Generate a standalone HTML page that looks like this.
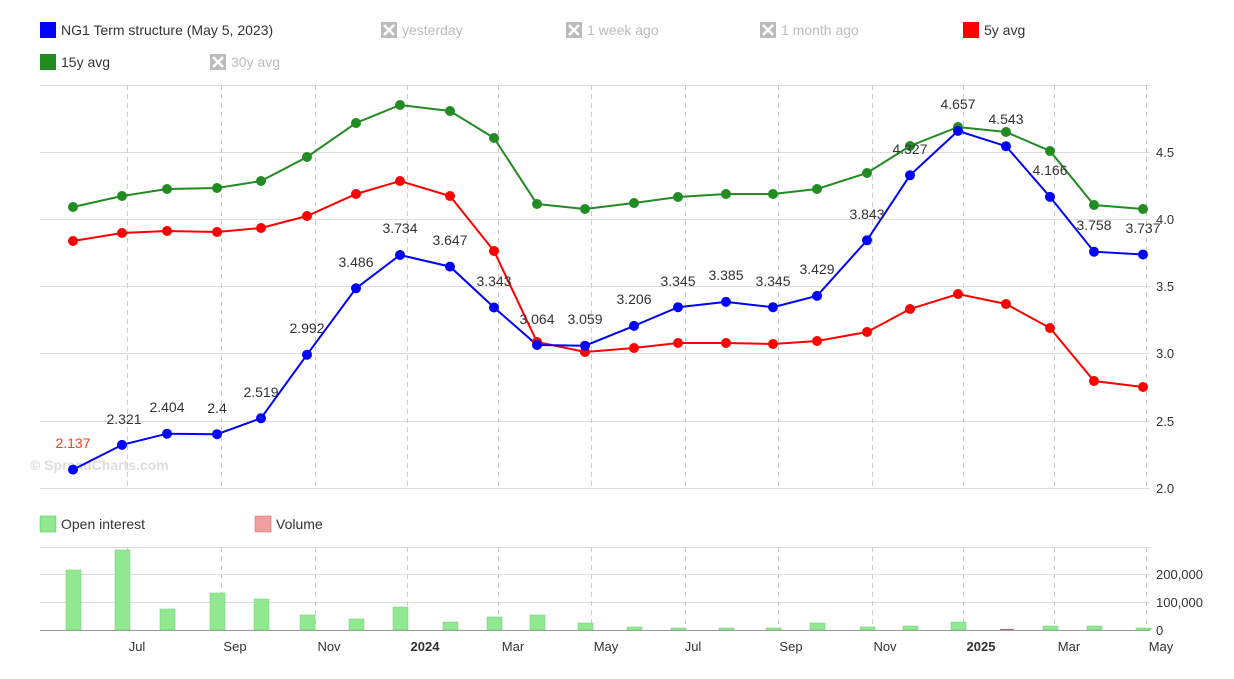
<!DOCTYPE html>
<html><head><meta charset="utf-8"><style>
body{margin:0;background:#fff;font-family:"Liberation Sans",sans-serif;}
</style></head><body>
<svg width="1234" height="674" xmlns="http://www.w3.org/2000/svg" font-family="Liberation Sans, sans-serif">
<rect width="1234" height="674" fill="#fff"/>
<!-- legend -->
<g font-size="14">
<rect x="40" y="22" width="16" height="16" fill="#0000ff"/><text x="61" y="35" fill="#333">NG1 Term structure (May 5, 2023)</text>
<g fill="#bbb"><rect x="381" y="22" width="16" height="16"/><rect x="566" y="22" width="16" height="16"/><rect x="760" y="22" width="16" height="16"/><rect x="210" y="54" width="16" height="16"/></g>
<g stroke="#fff" stroke-width="2.5"><path d="M384 25l10 10M394 25l-10 10M569 25l10 10M579 25l-10 10M763 25l10 10M773 25l-10 10M213 57l10 10M223 57l-10 10"/></g>
<g fill="#bbb"><text x="402" y="35">yesterday</text><text x="587" y="35">1 week ago</text><text x="781" y="35">1 month ago</text><text x="231" y="67">30y avg</text></g>
<rect x="963" y="22" width="16" height="16" fill="#ff0000"/><text x="984" y="35" fill="#333">5y avg</text>
<rect x="40" y="54" width="16" height="16" fill="#228b22"/><text x="61" y="67" fill="#333">15y avg</text>
<rect x="40" y="516" width="16" height="16" fill="#90e890" stroke="#5c5" stroke-width="0.5"/><text x="61" y="529" fill="#333">Open interest</text>
<rect x="255" y="516" width="16" height="16" fill="#f0a0a0" stroke="#c66" stroke-width="0.5"/><text x="276" y="529" fill="#333">Volume</text>
</g>
<!-- grid -->
<g stroke="#ddd" stroke-width="1">
<path d="M40 85.5H1150M40 152.5H1150M40 219.5H1150M40 286.5H1150M40 353.5H1150M40 421.5H1150M40 488.5H1150"/>
<path d="M40 547.5H1150M40 574.5H1150M40 602.5H1150"/>
</g>
<g stroke="#ccc" stroke-dasharray="5,4">
<path d="M127.5 85V488M221.5 85V488M315.5 85V488M407.5 85V488M498.5 85V488M591.5 85V488M685.5 85V488M778.5 85V488M872.5 85V488M963.5 85V488M1054.5 85V488M1146.5 85V488"/>
<path d="M127.5 547V630M221.5 547V630M315.5 547V630M407.5 547V630M498.5 547V630M591.5 547V630M685.5 547V630M778.5 547V630M872.5 547V630M963.5 547V630M1054.5 547V630M1146.5 547V630"/>
</g>
<path d="M40 630.5H1150" stroke="#999"/>
<g font-size="13" fill="#333">
<text x="1156" y="157">4.5</text><text x="1156" y="224">4.0</text><text x="1156" y="291">3.5</text><text x="1156" y="358">3.0</text><text x="1156" y="426">2.5</text><text x="1156" y="493">2.0</text>
<text x="1156" y="579">200,000</text><text x="1156" y="607">100,000</text><text x="1156" y="635">0</text>
</g>
<g font-size="13" fill="#333" text-anchor="middle">
<text x="137" y="651">Jul</text><text x="235" y="651">Sep</text><text x="329" y="651">Nov</text><text x="425" y="651" font-weight="bold">2024</text><text x="513" y="651">Mar</text><text x="606" y="651">May</text><text x="693" y="651">Jul</text><text x="791" y="651">Sep</text><text x="885" y="651">Nov</text><text x="981" y="651" font-weight="bold">2025</text><text x="1069" y="651">Mar</text><text x="1161" y="651">May</text>
</g>
<text x="30" y="470" font-size="14" font-weight="bold" fill="#ddd">© SpreadCharts.com</text>
<!-- bars -->
<g fill="#90e890" stroke="#7c7" stroke-width="0.5">
<rect x="66" y="570" width="15" height="60"/><rect x="115" y="550" width="15" height="80"/><rect x="160" y="609" width="15" height="21"/><rect x="210" y="593" width="15" height="37"/><rect x="254" y="599" width="15" height="31"/><rect x="300" y="615" width="15" height="15"/><rect x="349" y="619" width="15" height="11"/><rect x="393" y="607" width="15" height="23"/><rect x="443" y="622" width="15" height="8"/><rect x="487" y="617" width="15" height="13"/><rect x="530" y="615" width="15" height="15"/><rect x="578" y="623" width="15" height="7"/><rect x="627" y="627" width="15" height="3"/><rect x="671" y="628" width="15" height="2"/><rect x="719" y="628" width="15" height="2"/><rect x="766" y="628" width="15" height="2"/><rect x="810" y="623" width="15" height="7"/><rect x="860" y="627" width="15" height="3"/><rect x="903" y="626" width="15" height="4"/><rect x="951" y="622" width="15" height="8"/><rect x="1043" y="626" width="15" height="4"/><rect x="1087" y="626" width="15" height="4"/><rect x="1136" y="628" width="15" height="2"/>
</g>
<rect x="1000" y="629" width="14" height="1" fill="#c66"/>
<!-- lines -->
<g fill="none" stroke-width="2">
<polyline stroke="#228b22" points="73,207 122,196 167,189 217,188 261,181 307,157 356,123 400,105 450,111 494,138 537,204 585,209 634,203 678,197 726,194 773,194 817,189 867,173 910,146 958,127 1006,132 1050,151 1094,205 1143,209"/>
<polyline stroke="#ff0000" points="73,241 122,233 167,231 217,232 261,228 307,216 356,194 400,181 450,196 494,251 537,342 585,352 634,348 678,343 726,343 773,344 817,341 867,332 910,309 958,294 1006,304 1050,328 1094,381 1143,387"/>
<polyline stroke="#0000ff" points="73,469.6 122,444.9 167,433.7 217,434.2 261,418.2 307,354.7 356,288.3 400,255 450,266.6 494,307.5 537,345 585,345.7 634,325.9 678,307.2 726,301.9 773,307.2 817,295.9 867,240.3 910,175.3 958,130.9 1006,146.2 1050,196.9 1094,251.7 1143,254.5"/>
</g>
<g fill="#228b22">
<circle cx="73" cy="207" r="5"/><circle cx="122" cy="196" r="5"/><circle cx="167" cy="189" r="5"/><circle cx="217" cy="188" r="5"/><circle cx="261" cy="181" r="5"/><circle cx="307" cy="157" r="5"/><circle cx="356" cy="123" r="5"/><circle cx="400" cy="105" r="5"/><circle cx="450" cy="111" r="5"/><circle cx="494" cy="138" r="5"/><circle cx="537" cy="204" r="5"/><circle cx="585" cy="209" r="5"/><circle cx="634" cy="203" r="5"/><circle cx="678" cy="197" r="5"/><circle cx="726" cy="194" r="5"/><circle cx="773" cy="194" r="5"/><circle cx="817" cy="189" r="5"/><circle cx="867" cy="173" r="5"/><circle cx="910" cy="146" r="5"/><circle cx="958" cy="127" r="5"/><circle cx="1006" cy="132" r="5"/><circle cx="1050" cy="151" r="5"/><circle cx="1094" cy="205" r="5"/><circle cx="1143" cy="209" r="5"/>
</g>
<g fill="#ff0000">
<circle cx="73" cy="241" r="5"/><circle cx="122" cy="233" r="5"/><circle cx="167" cy="231" r="5"/><circle cx="217" cy="232" r="5"/><circle cx="261" cy="228" r="5"/><circle cx="307" cy="216" r="5"/><circle cx="356" cy="194" r="5"/><circle cx="400" cy="181" r="5"/><circle cx="450" cy="196" r="5"/><circle cx="494" cy="251" r="5"/><circle cx="537" cy="342" r="5"/><circle cx="585" cy="352" r="5"/><circle cx="634" cy="348" r="5"/><circle cx="678" cy="343" r="5"/><circle cx="726" cy="343" r="5"/><circle cx="773" cy="344" r="5"/><circle cx="817" cy="341" r="5"/><circle cx="867" cy="332" r="5"/><circle cx="910" cy="309" r="5"/><circle cx="958" cy="294" r="5"/><circle cx="1006" cy="304" r="5"/><circle cx="1050" cy="328" r="5"/><circle cx="1094" cy="381" r="5"/><circle cx="1143" cy="387" r="5"/>
</g>
<g fill="#0000ff">
<circle cx="73" cy="469.6" r="5"/><circle cx="122" cy="444.9" r="5"/><circle cx="167" cy="433.7" r="5"/><circle cx="217" cy="434.2" r="5"/><circle cx="261" cy="418.2" r="5"/><circle cx="307" cy="354.7" r="5"/><circle cx="356" cy="288.3" r="5"/><circle cx="400" cy="255" r="5"/><circle cx="450" cy="266.6" r="5"/><circle cx="494" cy="307.5" r="5"/><circle cx="537" cy="345" r="5"/><circle cx="585" cy="345.7" r="5"/><circle cx="634" cy="325.9" r="5"/><circle cx="678" cy="307.2" r="5"/><circle cx="726" cy="301.9" r="5"/><circle cx="773" cy="307.2" r="5"/><circle cx="817" cy="295.9" r="5"/><circle cx="867" cy="240.3" r="5"/><circle cx="910" cy="175.3" r="5"/><circle cx="958" cy="130.9" r="5"/><circle cx="1006" cy="146.2" r="5"/><circle cx="1050" cy="196.9" r="5"/><circle cx="1094" cy="251.7" r="5"/><circle cx="1143" cy="254.5" r="5"/>
</g>
<g font-size="14" fill="#333" text-anchor="middle">
<text x="73" y="448" fill="#f04020">2.137</text><text x="124" y="424">2.321</text><text x="167" y="412">2.404</text><text x="217" y="413">2.4</text><text x="261" y="397">2.519</text><text x="307" y="333">2.992</text><text x="356" y="267">3.486</text><text x="400" y="233">3.734</text><text x="450" y="245">3.647</text><text x="494" y="286">3.343</text><text x="537" y="324">3.064</text><text x="585" y="324">3.059</text><text x="634" y="304">3.206</text><text x="678" y="286">3.345</text><text x="726" y="280">3.385</text><text x="773" y="286">3.345</text><text x="817" y="274">3.429</text><text x="867" y="219">3.843</text><text x="910" y="154">4.327</text><text x="958" y="109">4.657</text><text x="1006" y="124">4.543</text><text x="1050" y="175">4.166</text><text x="1094" y="230">3.758</text><text x="1143" y="233">3.737</text>
</g>
</svg>
</body></html>
